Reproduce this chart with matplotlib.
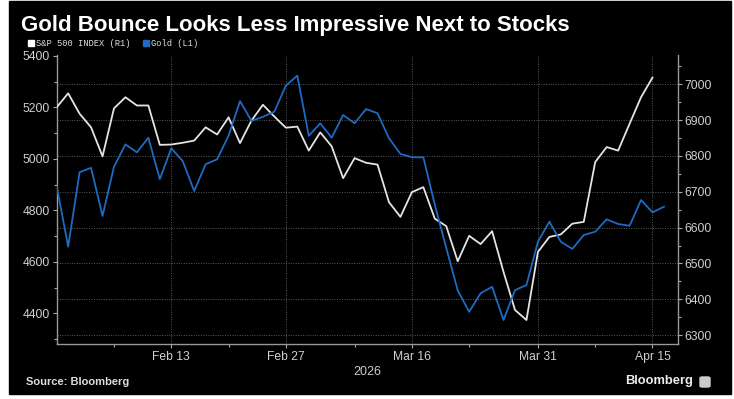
import matplotlib
matplotlib.use("Agg")
import matplotlib.pyplot as plt
import numpy as np
import pandas as pd
from matplotlib.patches import Rectangle, FancyBboxPatch
from matplotlib.ticker import MultipleLocator, FixedLocator

plt.rcParams["font.family"] = ["Liberation Sans", "DejaVu Sans"]

# trading days (Good Friday skipped)
days = pd.bdate_range("2026-01-30", "2026-04-16").drop(pd.Timestamp("2026-04-03"))

spx = [6936, 6975, 6918, 6880, 6799, 6933, 6964, 6941, 6941, 6831,
       6832, 6837, 6843, 6880, 6860, 6908, 6836, 6899, 6943, 6910,
       6879, 6882, 6815, 6866, 6827, 6738, 6794, 6781, 6776, 6671,
       6630, 6699, 6713, 6625, 6604, 6506, 6577, 6554, 6590, 6476,
       6370, 6342, 6532, 6574, 6581, 6611, 6616, 6783, 6825, 6815,
       6890, 6964, 7019]

gold = [4894, 4659, 4948, 4965, 4778, 4969, 5056, 5025, 5082, 4921,
        5041, 4991, 4875, 4979, 4998, 5090, 5224, 5147, 5163, 5183,
        5284, 5323, 5089, 5138, 5082, 5170, 5138, 5193, 5177, 5080,
        5019, 5006, 5006, 4822, 4654, 4489, 4406, 4478, 4503, 4374,
        4490, 4510, 4678, 4756, 4678, 4650, 4704, 4717, 4765, 4747,
        4740, 4840, 4792, 4814]

tick_dates = ["2026-02-13", "2026-02-27", "2026-03-16", "2026-03-31", "2026-04-15"]
tick_labels = ["Feb 13", "Feb 27", "Mar 16", "Mar 31", "Apr 15"]
minor_dates = ["2026-02-06", "2026-02-20", "2026-03-09", "2026-03-23", "2026-04-08"]

W, H = 734, 399
fig = plt.figure(figsize=(W / 100, H / 100), dpi=100, facecolor="white")
fig.add_artist(Rectangle((9 / W, 5 / H), 722 / W, 393 / H, transform=fig.transFigure,
                         color="black", zorder=-10))

ax = fig.add_axes([56.7 / W, 1 - 344 / H, 621 / W, 289 / H])
ax.set_facecolor("black")
ax2 = ax.twinx()

major_x = days.get_indexer(pd.to_datetime(tick_dates))
minor_x = days.get_indexer(pd.to_datetime(minor_dates))

# S&P on the right-hand scale (drawn first so the grid sits under both lines)
ax.plot(np.arange(len(spx)), spx, color="#e4e4e4", lw=1.3, zorder=3)
ax.set_ylim(6275, 7082)
ax.yaxis.tick_right()
ax.yaxis.set_major_locator(MultipleLocator(100))
ax.yaxis.set_minor_locator(MultipleLocator(50))

ax2.plot(np.arange(len(gold)), gold, color="#1e6bc1", lw=1.3)
ax2.set_ylim(4281, 5403)
ax2.yaxis.tick_left()
ax2.yaxis.set_major_locator(MultipleLocator(200))
ax2.yaxis.set_minor_locator(MultipleLocator(100))

ax.set_xlim(0, 54.2)
ax.xaxis.set_major_locator(FixedLocator(major_x))
ax.xaxis.set_minor_locator(FixedLocator(minor_x))
ax.set_xticklabels(tick_labels)
ax.set_xlabel("2026", color="#cccccc", fontsize=9, labelpad=2)

ax.grid(True, which="major", color="#5a5a5a", linestyle=(0, (1, 1.5)), lw=0.7)

for a in (ax, ax2):
    a.tick_params(which="both", colors="#aaaaaa", labelcolor="#d0d0d0",
                  labelsize=8.7, width=0.8)
    a.tick_params(which="major", length=3, pad=2)
    a.tick_params(which="minor", length=2)
for s in ax2.spines.values():
    s.set_visible(False)
ax.spines["top"].set_visible(False)
for k in ("left", "right", "bottom"):
    ax.spines[k].set_color("#999999")
    ax.spines[k].set_linewidth(1.0)

# title, legend and footer
fig.text(21 / W, 1 - 31 / H, "Gold Bounce Looks Less Impressive Next to Stocks",
         color="white", fontsize=16, fontweight="bold", va="baseline")

fig.add_artist(Rectangle((28 / W, 1 - 46 / H), 6 / W, 6 / H, transform=fig.transFigure,
                         color="white"))
fig.text(36 / W, 1 - 43 / H, "S&P 500 INDEX (R1)", color="#dddddd", fontsize=6.3,
         family=["Liberation Mono", "DejaVu Sans Mono"], va="center")
fig.add_artist(Rectangle((143 / W, 1 - 46 / H), 6 / W, 6 / H, transform=fig.transFigure,
                         color="#1e6bc1"))
fig.text(151 / W, 1 - 43 / H, "Gold (L1)", color="#dddddd", fontsize=6.3,
         family=["Liberation Mono", "DejaVu Sans Mono"], va="center")

fig.text(26 / W, 1 - 382 / H, "Source: Bloomberg", color="#dddddd", fontsize=8,
         fontweight="bold", va="center")
fig.text(693 / W, 1 - 381 / H, "Bloomberg", color="#eeeeee", fontsize=9.3,
         fontweight="bold", va="center", ha="right")
fig.add_artist(FancyBboxPatch((700 / W, 1 - 387 / H), 10 / W, 10 / H,
                              boxstyle="round,pad=0,rounding_size=0.003",
                              transform=fig.transFigure, color="#cccccc"))

fig.savefig("out.png", dpi=100, facecolor=fig.get_facecolor())
